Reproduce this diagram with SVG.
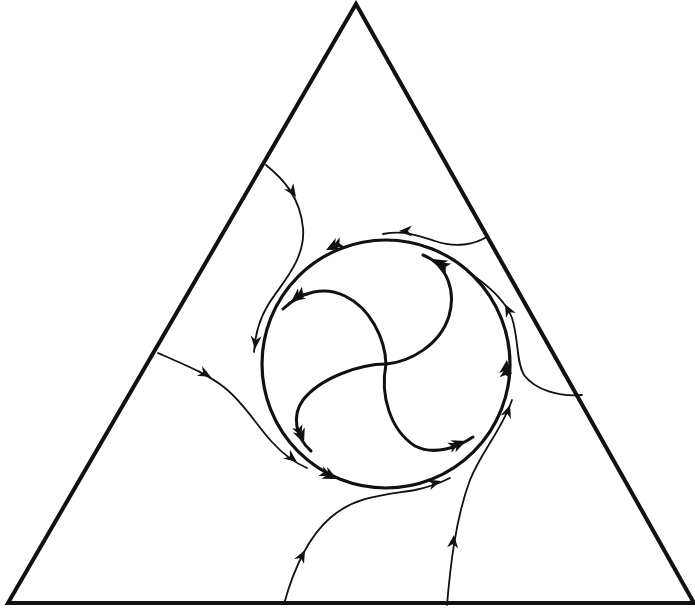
<svg xmlns="http://www.w3.org/2000/svg" xmlns:xlink="http://www.w3.org/1999/xlink" width="695" height="609" viewBox="0 0 695 609">
<style>
.tri{fill:none;stroke:#111;stroke-width:4;stroke-linejoin:miter}
.cyc{fill:none;stroke:#111;stroke-width:3.2}
.arm{fill:none;stroke:#111;stroke-width:3;stroke-linecap:round}
.flow{fill:none;stroke:#111;stroke-width:1.8;stroke-linecap:round}
.ah{fill:#111}
</style>
<defs>
<path id="a" d="M0,0 L-13,-5.5 L-9,0 L-13,5.5 Z"/>
<path id="A" d="M0,0 L-14,-6.5 L-10,0 L-14,6.5 Z M-7,0 L-18,-5.5 L-15,0 L-18,5.5 Z"/>
</defs>
<rect width="695" height="609" fill="#fff"/>
<g id="triangle">
<path class="tri" d="M356,4 L694,603 L8,603 Z"/>
</g>
<g id="limit-cycle">
<circle class="cyc" cx="386" cy="364" r="124"/>
<use href="#A" class="ah" transform="translate(326,250) rotate(154)"/>
<use href="#A" class="ah" transform="translate(507,360) rotate(-84)"/>
<use href="#A" class="ah" transform="translate(337,479) rotate(26)"/>
</g>
<g id="spiral-arms">
<path class="arm" d="M386,364 C385,338 370,308 345,296 C325,286 302,291 283,309"/>
<path class="arm" d="M386,364 C410,362 440,345 449,316 C456,292 448,265 423,255"/>
<path class="arm" d="M386,364 C380,395 390,430 415,446 C435,456 458,447 473,437"/>
<path class="arm" d="M386,364 C360,364 320,378 303,400 C292,415 295,437 311,451"/>
<use href="#A" class="ah" transform="translate(291,302) rotate(142)"/>
<use href="#A" class="ah" transform="translate(433,259) rotate(-149)"/>
<use href="#A" class="ah" transform="translate(466,441) rotate(-22)"/>
<use href="#A" class="ah" transform="translate(304,443) rotate(68)"/>
</g>
<g id="connectors">
<path class="flow" d="M266,165 C282,178 300,196 303,228 C306,260 280,285 268,305 C260,318 255,335 254,352"/>
<path class="flow" d="M158,353 C180,363 205,372 225,388 C245,404 256,425 272,442 C282,453 293,462 307,468"/>
<path class="flow" d="M284,604 C292,575 305,540 330,518 C355,496 385,495 415,490 C430,487 442,482 450,478"/>
<path class="flow" d="M447,605 C450,570 455,520 470,480 C482,450 502,430 512,400"/>
<path class="flow" d="M582,395 C560,397 535,390 524,375 C516,362 519,340 512,318 C505,300 488,285 468,272"/>
<path class="flow" d="M488,236 C475,245 455,248 435,241 C420,236 405,230 383,234"/>
<use href="#a" class="ah" transform="translate(296,197) rotate(56)"/>
<use href="#a" class="ah" transform="translate(255,349) rotate(95)"/>
<use href="#a" class="ah" transform="translate(211,377) rotate(28)"/>
<use href="#a" class="ah" transform="translate(297,462) rotate(37)"/>
<use href="#a" class="ah" transform="translate(305,550) rotate(-63)"/>
<use href="#a" class="ah" transform="translate(441,481) rotate(-17)"/>
<use href="#a" class="ah" transform="translate(454,535) rotate(-84)"/>
<use href="#a" class="ah" transform="translate(510,405) rotate(-71)"/>
<use href="#a" class="ah" transform="translate(505,304) rotate(-117)"/>
<use href="#a" class="ah" transform="translate(399,231) rotate(180)"/>
</g>
</svg>
